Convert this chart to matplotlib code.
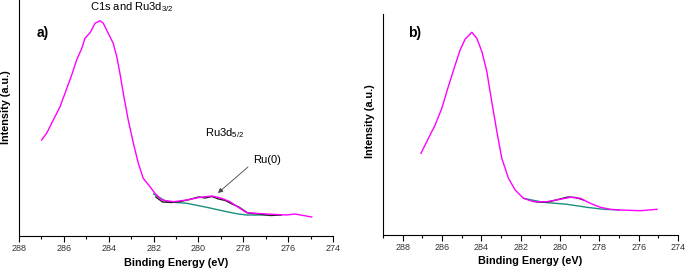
import numpy as np
import matplotlib
matplotlib.use("Agg")
import matplotlib.pyplot as plt
from matplotlib.ticker import MultipleLocator

plt.rcParams['font.family'] = ['Liberation Sans', 'DejaVu Sans']
plt.rcParams['mathtext.default'] = 'regular'

# panel a) - envelope (magenta)
E_a = [286.99, 286.77, 286.47, 286.17, 285.95, 285.65, 285.43, 285.20, 285.06, 284.83,
       284.61, 284.39, 284.24, 284.02, 283.80, 283.64, 283.50, 283.35, 283.13, 282.90,
       282.68, 282.46, 282.16, 281.94, 281.64, 281.12, 280.52, 279.93, 279.41, 279.04,
       278.59, 278.22, 277.85, 276.96, 276.07, 275.7, 274.95]
I_a = [96, 102.7, 116, 129.3, 142.7, 161, 176, 187.7, 197.7, 203.3,
       212.7, 215.3, 212.7, 202.7, 192.7, 179.3, 162.7, 142.7, 116, 92.7,
       72.7, 57.7, 49.3, 42.7, 36, 34.3, 36, 38.7, 40, 38.3,
       34.3, 28.7, 23.3, 22, 21, 22, 19]
# panel a) - raw data (black)
E_a_raw = [281.9, 281.6, 281.2, 280.8, 280.4, 280.0, 279.7, 279.4, 279.1, 278.8,
           278.5, 278.2, 277.8, 277.3, 276.8, 276.3]
I_a_raw = [39, 34, 33.5, 34.5, 36.5, 39, 38, 39.5, 37, 35.5,
           32, 29, 23, 22, 20.5, 21]
# panel a) - background (teal)
E_a_bg = [282.0, 281.42, 280.52, 279.63, 278.74, 278.22, 277.85, 276.96]
I_a_bg = [42, 34.3, 32.7, 28.7, 24.3, 22, 21, 21]

# panel b)
E_b = [287.07, 286.69, 286.35, 286.01, 285.68, 285.33, 285.08, 284.82, 284.48, 284.23,
       283.97, 283.72, 283.47, 283.21, 282.96, 282.62, 282.28, 281.86, 281.35, 280.67,
       279.99, 279.48, 278.97, 278.46, 277.95, 277.44, 276.97, 275.91, 275.07]
I_b = [81.7, 96.7, 110, 126.7, 148.3, 170, 185, 196, 202.7, 196.7,
       183.3, 163.3, 133.3, 103.3, 76.7, 56.7, 45, 36.7, 33.3, 33.3,
       35.7, 37.7, 36.7, 31.7, 27.7, 25.7, 25, 24.3, 25.7]
E_b_raw = [281.2, 280.6, 280.0, 279.6, 279.2, 278.8]
I_b_raw = [33, 33, 36, 38, 37.5, 35]
E_b_bg = [281.86, 280.84, 279.65, 278.63, 277.78, 276.97]
I_b_bg = [36.7, 32.7, 30.7, 27.7, 25.7, 25]

magenta = '#ff00ff'
teal = '#1a9080'

fig = plt.figure(figsize=(6.85, 2.72), dpi=100)
ax1 = fig.add_axes([19/685, 36/272, 314/685, 236/272])
ax2 = fig.add_axes([383/685, 37/272, 295/685, 221/272])

panels = [(ax1, E_a, I_a, E_a_raw, I_a_raw, E_a_bg, I_a_bg, (288, 274), 236, -0.0255, 0.547),
          (ax2, E_b, I_b, E_b_raw, I_b_raw, E_b_bg, I_b_bg, (289, 274), 221, -0.027, 0.515)]

for ax, E, I, Er, Ir, Eb, Ib, xl, ytop, ylab_x, ylab_y in panels:
    ax.plot(Eb, Ib, color=teal, lw=1.0)
    ax.plot(Er, Ir, color='#222222', lw=1.0)
    ax.plot(E, I, color=magenta, lw=1.0)
    ax.set_xlim(*xl)
    ax.set_ylim(0, ytop)
    ax.xaxis.set_major_locator(MultipleLocator(2))
    ax.xaxis.set_minor_locator(MultipleLocator(1))
    ax.set_yticks([])
    for s in ['top', 'right']:
        ax.spines[s].set_visible(False)
    for s in ['left', 'bottom']:
        ax.spines[s].set_linewidth(0.8)
    ax.tick_params(axis='x', which='major', length=4, width=0.8, labelsize=6.5, labelcolor='#333333', pad=2)
    ax.tick_params(axis='x', which='minor', length=2.5, width=0.8)
    ax.set_xlabel('Binding Energy (eV)', fontsize=7.8, fontweight='bold', labelpad=3)
    ax.set_ylabel('Intensity (a.u.)', fontsize=7.8, fontweight='bold')
    ax.yaxis.set_label_coords(ylab_x, ylab_y)

ax1.text(0.057, 0.86, 'a)', transform=ax1.transAxes, fontsize=10, fontweight='bold', va='center')
ax2.text(0.085, 0.914, 'b)', transform=ax2.transAxes, fontsize=10, fontweight='bold', va='center')

ax1.text(284.85, 229, r'C1s and Ru3d$_{3/2}$', fontsize=8, va='center')
ax1.text(279.71, 103, r'Ru3d$_{5/2}$', fontsize=8, va='center')
ax1.text(277.57, 76, 'Ru(0)', fontsize=8, va='center')
ax1.annotate('', xy=(279.13, 43), xytext=(277.79, 69),
             arrowprops=dict(arrowstyle='-|>', color='#444444', lw=0.6,
                             mutation_scale=7, shrinkA=0, shrinkB=0))

fig.savefig('out.png', dpi=100)
